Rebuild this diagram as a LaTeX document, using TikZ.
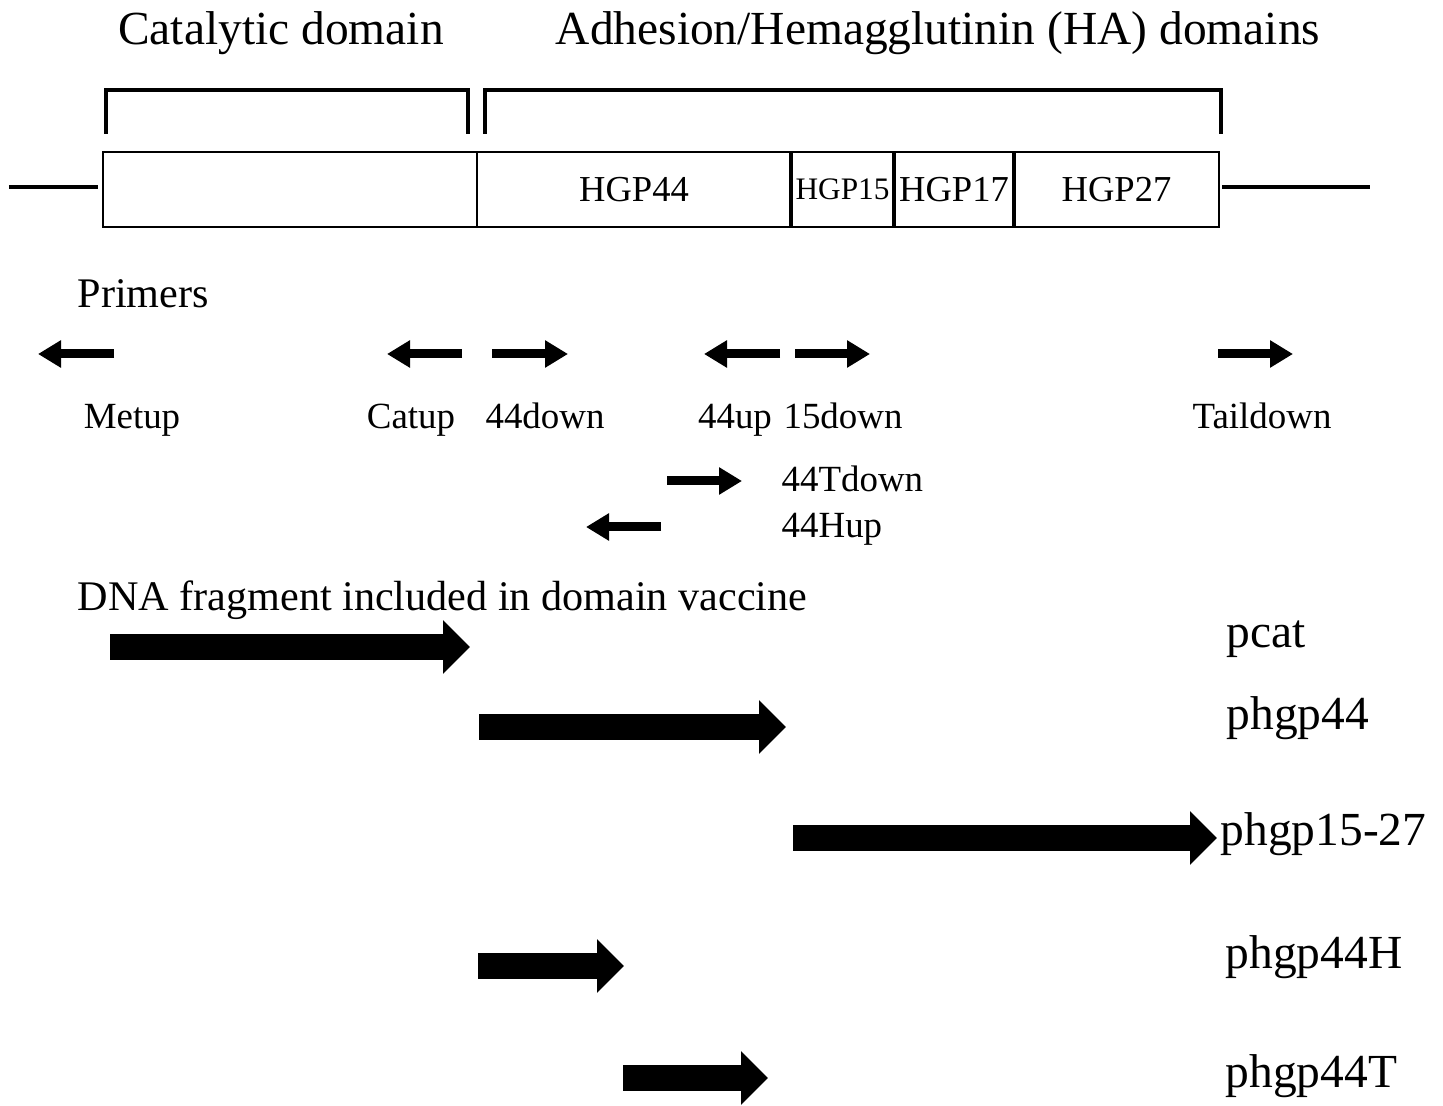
\documentclass[tikz,border=0pt]{standalone}
\usepackage{fontspec}
\setmainfont{Liberation Serif}
\usetikzlibrary{arrows.meta, positioning}

\begin{document}
\begin{tikzpicture}[x=1cm, y=-1cm,
    segment/.style = {draw, line width=0.6pt, minimum height=0.75cm, inner sep=0pt, outer sep=0pt, anchor=west, font=\fontsize{10.4}{12}\selectfont},
    divider/.style = {line width=1.2pt},
    bracket/.style = {line width=0.95pt},
    flank/.style = {line width=0.95pt},
    head/.style = {anchor=base, inner sep=0pt, font=\fontsize{13.5}{16}\selectfont},
    caption/.style = {anchor=base west, inner sep=0pt, font=\fontsize{12}{14}\selectfont},
    primer/.style = {-{Triangle[length=2.3mm, width=2.6mm]}, line width=0.9mm},
    primername/.style = {anchor=base, inner sep=0pt, font=\fontsize{10.5}{12}\selectfont},
    fragment/.style = {-{Triangle[length=2.7mm, width=5.2mm]}, line width=2.6mm},
    plasmid/.style = {anchor=base west, inner sep=0pt, font=\fontsize{13.5}{16}\selectfont}]
    \useasboundingbox (0,0) rectangle (14.43,11.06);

    % gene map
    \node (cat) [segment, minimum width=3.74cm] at (1.03,1.895) {};
    \node (hgp44) [segment, minimum width=3.14cm, right=0pt of cat] {HGP44};
    \node (hgp15) [segment, minimum width=1.03cm, right=0pt of hgp44, font=\fontsize{8.9}{10}\selectfont] {HGP15};
    \node (hgp17) [segment, minimum width=1.20cm, right=0pt of hgp15] {HGP17};
    \node (hgp27) [segment, minimum width=2.05cm, right=0pt of hgp17] {HGP27};
    \draw[divider] (hgp15.north west) -- (hgp15.south west);
    \draw[divider] (hgp17.north west) -- (hgp17.south west);
    \draw[divider] (hgp27.north west) -- (hgp27.south west);

    \coordinate (lflank) at (0.09,1.87);
    \coordinate (rflank) at (13.70,1.87);
    \draw[flank] (lflank) -- ([xshift=-0.5mm]cat.west |- lflank);
    \draw[flank] ([xshift=0.3mm]hgp27.east |- rflank) -- (rflank);

    \draw[bracket] (1.06,1.34) |- (4.68,0.90) -- (4.68,1.34);
    \draw[bracket] (4.85,1.34) |- (12.21,0.90) -- (12.21,1.34);
    \node (catdom) [head] at (2.81,0.45) {Catalytic domain};
    \node (hadom) [head] at (9.38,0.45) {Adhesion/Hemagglutinin (HA) domains};

    % primers
    \node (primers) [caption] at (0.77,3.08) {Primers};
    \coordinate (metup-s) at (1.14,3.54);   \coordinate (metup-e) at (0.38,3.54);
    \coordinate (catup-s) at (4.62,3.54);   \coordinate (catup-e) at (3.87,3.54);
    \coordinate (d44-s) at (4.92,3.54);     \coordinate (d44-e) at (5.68,3.54);
    \coordinate (u44-s) at (7.80,3.54);     \coordinate (u44-e) at (7.04,3.54);
    \coordinate (d15-s) at (7.95,3.54);     \coordinate (d15-e) at (8.70,3.54);
    \coordinate (tail-s) at (12.18,3.54);   \coordinate (tail-e) at (12.93,3.54);
    \coordinate (td44-s) at (6.67,4.81);    \coordinate (td44-e) at (7.42,4.81);
    \coordinate (hu44-s) at (6.61,5.27);    \coordinate (hu44-e) at (5.86,5.27);
    \draw[primer] (metup-s) -- (metup-e);
    \draw[primer] (catup-s) -- (catup-e);
    \draw[primer] (d44-s) -- (d44-e);
    \draw[primer] (u44-s) -- (u44-e);
    \draw[primer] (d15-s) -- (d15-e);
    \draw[primer] (tail-s) -- (tail-e);
    \draw[primer] (td44-s) -- (td44-e);
    \draw[primer] (hu44-s) -- (hu44-e);
    \node (metup) [primername] at (1.32,4.29) {Metup};
    \node (catup) [primername] at (4.11,4.29) {Catup};
    \node (down44) [primername] at (5.45,4.29) {44down};
    \node (up44) [primername] at (7.35,4.29) {44up};
    \node (down15) [primername] at (8.43,4.29) {15down};
    \node (taildown) [primername] at (12.62,4.29) {Taildown};
    \node (tdown44) [primername, anchor=base west] at (7.81,4.92) {44Tdown};
    \node (hup44) [primername, anchor=base west] at (7.81,5.38) {44Hup};

    % fragments
    \node (dna) [caption] at (0.77,6.10) {DNA fragment included in domain vaccine};
    \coordinate (pcat-s) at (1.10,6.47);    \coordinate (pcat-e) at (4.70,6.47);
    \coordinate (p44-s) at (4.79,7.27);     \coordinate (p44-e) at (7.86,7.27);
    \coordinate (p1527-s) at (7.93,8.38);   \coordinate (p1527-e) at (12.17,8.38);
    \coordinate (p44h-s) at (4.78,9.66);    \coordinate (p44h-e) at (6.24,9.66);
    \coordinate (p44t-s) at (6.23,10.78);   \coordinate (p44t-e) at (7.68,10.78);
    \draw[fragment] (pcat-s) -- (pcat-e);
    \draw[fragment] (p44-s) -- (p44-e);
    \draw[fragment] (p1527-s) -- (p1527-e);
    \draw[fragment] (p44h-s) -- (p44h-e);
    \draw[fragment] (p44t-s) -- (p44t-e);
    \node (pcat) [plasmid] at (12.26,6.47) {pcat};
    \node (phgp44) [plasmid] at (12.26,7.29) {phgp44};
    \node (phgp1527) [plasmid] at (12.20,8.45) {phgp15-27};
    \node (phgp44h) [plasmid] at (12.25,9.68) {phgp44H};
    \node (phgp44t) [plasmid] at (12.25,10.87) {phgp44T};
\end{tikzpicture}
\end{document}
